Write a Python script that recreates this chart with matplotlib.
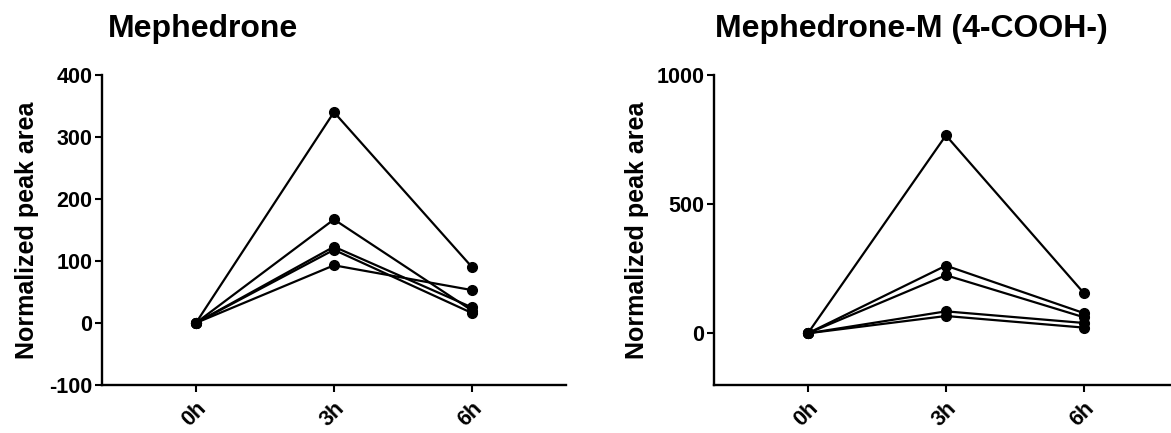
import matplotlib.pyplot as plt

plt.rcParams["font.family"] = ["Liberation Sans", "DejaVu Sans"]
plt.rcParams["font.weight"] = "bold"
plt.rcParams["axes.unicode_minus"] = False

times = ["0h", "3h", "6h"]

# Mephedrone, one list per subject (0h, 3h, 6h)
meph = [
    [0, 340, 90],
    [0, 167, 20],
    [0, 123, 25],
    [0, 118, 16],
    [0, 93, 53],
]

# Mephedrone-M (4-COOH-)
meph_m = [
    [0, 766, 155],
    [0, 262, 78],
    [0, 225, 62],
    [0, 85, 40],
    [0, 67, 22],
]

fig = plt.figure(figsize=(11.71, 4.33), dpi=100)
ax1 = fig.add_axes([0.0871, 0.1109, 0.3962, 0.716])
ax2 = fig.add_axes([0.6097, 0.1109, 0.3962, 0.716])


def draw_panel(ax, series, ylim, yticks, label_x):
    x = list(range(len(times)))
    for s in series:
        ax.plot(x, s, color="black", lw=1.6, marker="o", ms=7,
                clip_on=False, zorder=3)
    ax.set_xlim(-0.68, 2.68)
    ax.set_ylim(*ylim)
    ax.set_yticks(yticks)
    ax.set_xticks(x)
    ax.set_xticklabels(times, rotation=45, ha="right", va="top",
                       rotation_mode="anchor")
    for side in ("top", "right"):
        ax.spines[side].set_visible(False)
    for side in ("left", "bottom"):
        ax.spines[side].set_linewidth(1.7)
    ax.tick_params(width=1.5, length=5, labelsize=15.5, pad=2)
    ax.tick_params(axis="x", pad=4)
    ax.set_ylabel("Normalized peak area", fontsize=18, fontweight="bold")
    ax.yaxis.set_label_coords(label_x, 0.5)


draw_panel(ax1, meph, (-100, 400), [-100, 0, 100, 200, 300, 400], -0.135)
draw_panel(ax2, meph_m, (-200, 1000), [0, 500, 1000], -0.14)

fig.text(108 / 1171, 1 - 37 / 433, "Mephedrone", fontsize=23,
         fontweight="bold", ha="left", va="baseline")
fig.text(715 / 1171, 1 - 37 / 433, "Mephedrone-M (4-COOH-)", fontsize=23,
         fontweight="bold", ha="left", va="baseline")

fig.savefig("out.png", dpi=100)
